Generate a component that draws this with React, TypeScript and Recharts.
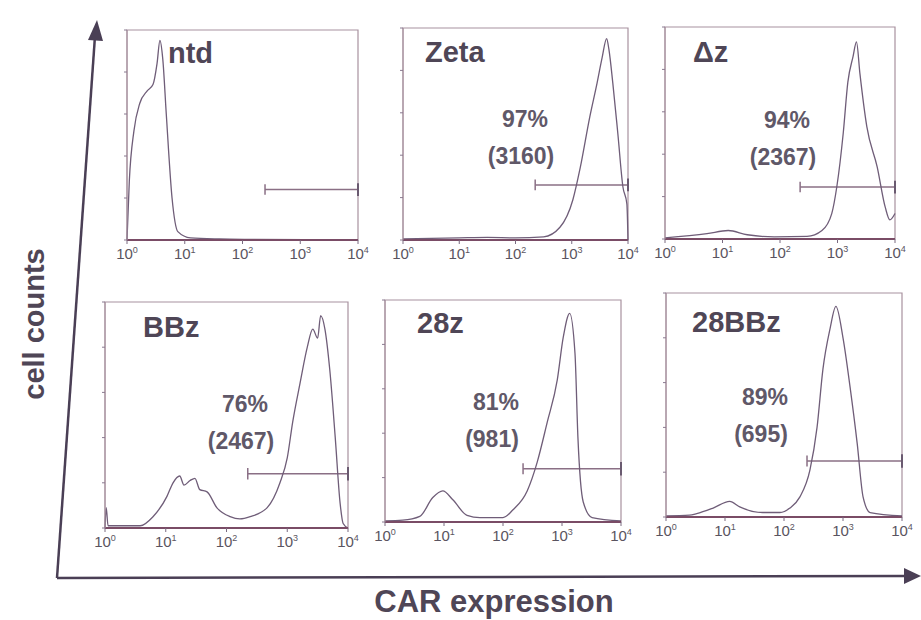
import React from "react";
import { LineChart, Line, XAxis, YAxis, ReferenceLine, ReferenceArea } from "recharts";

// x = log10(CAR expression), y = relative cell count
const ntdCurve = [
  { x: 0, y: 0 }, { x: 0.04, y: 28 }, { x: 0.12, y: 52 }, { x: 0.22, y: 65 },
  { x: 0.35, y: 71 }, { x: 0.45, y: 74 }, { x: 0.52, y: 84 }, { x: 0.57, y: 95 },
  { x: 0.62, y: 86 }, { x: 0.68, y: 60 }, { x: 0.78, y: 20 }, { x: 0.88, y: 4 },
  { x: 1.1, y: 1 }, { x: 1.6, y: 0.5 }, { x: 2.2, y: 0.3 }, { x: 4, y: 0 },
];
const zetaCurve = [
  { x: 0, y: 0.5 }, { x: 1.0, y: 1 }, { x: 1.5, y: 1.2 }, { x: 2.0, y: 1 },
  { x: 2.5, y: 1.5 }, { x: 2.79, y: 6 }, { x: 3.02, y: 19 }, { x: 3.15, y: 34 },
  { x: 3.32, y: 58 }, { x: 3.45, y: 74 }, { x: 3.54, y: 86 }, { x: 3.62, y: 95 },
  { x: 3.66, y: 90 }, { x: 3.73, y: 74 }, { x: 3.82, y: 50 }, { x: 3.91, y: 25 },
  { x: 3.98, y: 17 }, { x: 4, y: 0 },
];
const deltaCurve = [
  { x: 0, y: 0.5 }, { x: 0.73, y: 2.5 }, { x: 1.1, y: 4 }, { x: 1.43, y: 2 },
  { x: 1.9, y: 1 }, { x: 2.47, y: 1.2 }, { x: 2.73, y: 4 }, { x: 2.9, y: 12 },
  { x: 2.99, y: 25 }, { x: 3.1, y: 50 }, { x: 3.18, y: 74 }, { x: 3.27, y: 86 },
  { x: 3.33, y: 93 }, { x: 3.39, y: 78 }, { x: 3.51, y: 53 }, { x: 3.69, y: 34 },
  { x: 3.83, y: 15 }, { x: 3.91, y: 9 }, { x: 4, y: 12 },
];
const bbzCurve = [
  { x: 0, y: 0 }, { x: 0.02, y: 9 }, { x: 0.05, y: 1 }, { x: 0.58, y: 1 },
  { x: 0.79, y: 5 }, { x: 1.02, y: 14 }, { x: 1.12, y: 20 }, { x: 1.23, y: 23 },
  { x: 1.3, y: 19 }, { x: 1.4, y: 21 }, { x: 1.48, y: 22 }, { x: 1.56, y: 17 },
  { x: 1.68, y: 16 }, { x: 1.84, y: 9 }, { x: 2.06, y: 5 }, { x: 2.22, y: 4 },
  { x: 2.39, y: 5 }, { x: 2.67, y: 9 }, { x: 2.88, y: 20 }, { x: 3.0, y: 31 },
  { x: 3.09, y: 47 }, { x: 3.21, y: 64 }, { x: 3.33, y: 80 }, { x: 3.42, y: 88 },
  { x: 3.5, y: 84 }, { x: 3.55, y: 94 }, { x: 3.62, y: 88 }, { x: 3.7, y: 70 },
  { x: 3.79, y: 40 }, { x: 3.87, y: 11 }, { x: 3.92, y: 2 }, { x: 4, y: 0 },
];
const cd28Curve = [
  { x: 0, y: 0.5 }, { x: 0.3, y: 0.8 }, { x: 0.59, y: 2.5 }, { x: 0.81, y: 11 },
  { x: 0.98, y: 14 }, { x: 1.15, y: 10 }, { x: 1.39, y: 3 }, { x: 1.61, y: 2 },
  { x: 2.0, y: 2 }, { x: 2.17, y: 5.5 }, { x: 2.41, y: 14 }, { x: 2.58, y: 27 },
  { x: 2.75, y: 45 }, { x: 2.92, y: 64 }, { x: 3.02, y: 83 }, { x: 3.13, y: 94 },
  { x: 3.22, y: 76 }, { x: 3.27, y: 38 }, { x: 3.36, y: 9 }, { x: 3.51, y: 2 },
  { x: 4, y: 0.5 },
];
const cd28bbCurve = [
  { x: 0, y: 0.5 }, { x: 0.4, y: 0.8 }, { x: 0.52, y: 1.5 }, { x: 0.8, y: 4 },
  { x: 1.08, y: 7 }, { x: 1.25, y: 4.5 }, { x: 1.64, y: 2 }, { x: 1.93, y: 2 },
  { x: 2.1, y: 4 }, { x: 2.27, y: 9 }, { x: 2.44, y: 21 }, { x: 2.56, y: 40 },
  { x: 2.66, y: 66 }, { x: 2.78, y: 84 }, { x: 2.88, y: 94 }, { x: 3.0, y: 80 },
  { x: 3.12, y: 58 }, { x: 3.24, y: 33 }, { x: 3.34, y: 9 }, { x: 3.46, y: 2 },
  { x: 4, y: 0.5 },
];

const panelNames = ["ntd", "Zeta", "\u0394z", "BBz", "28z", "28BBz"];
const curves = [ntdCurve, zetaCurve, deltaCurve, bbzCurve, cd28Curve, cd28bbCurve];
const percents = ["", "97%", "94%", "76%", "81%", "89%"];
const mfis = ["", "(3160)", "(2367)", "(2467)", "(981)", "(695)"];
const gateStarts = [2.39, 2.35, 2.35, 2.35, 2.34, 2.39];
const gateLevels = [24, 26, 24.5, 24, 24, 25];
const decadeTicks = [0, 1, 2, 3, 4];

// box of each panel on the page: left, top, right, bottom
const boxes = [
  [127, 30, 358, 240],
  [403, 28, 628, 240],
  [665, 27, 895, 239],
  [105, 302, 348, 528],
  [385, 300, 621, 522],
  [666, 293, 902, 517],
];
// where the name and the % text sit, relative to the box
const nameOffsets = [[41, 33], [22, 34], [28, 35], [38, 35], [32, 33], [26, 39]];
const pctOffsets = [[0, 0], [122, 99], [122, 101], [140, 110], [111, 110], [99, 112]];

const lineColor = "#6f5d78";
const boxColor = "#a8929f";
const textColor = "#4f4656";

const DecadeTick = (props: any) => {
  const { x, y, payload } = props;
  return (
    <text x={x} y={y + 13} textAnchor="middle" fontSize={15} fill="#5a5460" fontFamily="Liberation Sans, Arial, sans-serif">
      <tspan>10</tspan>
      <tspan dy={-6} fontSize={9}>{payload.value}</tspan>
    </text>
  );
};

const NoTick = () => <g />;

function Histogram({ index }: { index: number }) {
  const [l, t, r, b] = boxes[index];
  const w = r - l;
  const h = b - t;
  const gs = gateStarts[index];
  const gl = gateLevels[index];
  return (
    <div style={{ position: "absolute", left: l - 20, top: t - 10 }}>
      <LineChart
        width={w + 40}
        height={h + 40}
        data={curves[index]}
        margin={{ top: 10, right: 20, bottom: 0, left: 16 }}
      >
        <XAxis
          dataKey="x"
          type="number"
          domain={[0, 4]}
          ticks={decadeTicks}
          tick={<DecadeTick />}
          tickSize={4}
          height={30}
          axisLine={{ stroke: "#7a4c66", strokeWidth: 2 }}
          tickLine={{ stroke: "#7a6a80" }}
          interval={0}
        />
        <YAxis
          type="number"
          domain={[0, 100]}
          ticks={[0, 20, 40, 60, 80, 100]}
          width={4}
          tick={<NoTick />}
          tickSize={3}
          axisLine={{ stroke: boxColor }}
          tickLine={{ stroke: "#8a7a90" }}
        />
        <ReferenceArea x1={0} x2={4} y1={0} y2={100} fill="none" stroke={boxColor} strokeWidth={1.2} />
        <ReferenceLine segment={[{ x: gs, y: gl }, { x: 4, y: gl }]} stroke="#8a6f85" strokeWidth={1.5} />
        <ReferenceLine segment={[{ x: gs, y: gl - 2.5 }, { x: gs, y: gl + 2.5 }]} stroke="#8a6f85" strokeWidth={1.5} />
        <ReferenceLine segment={[{ x: 4, y: gl - 3 }, { x: 4, y: gl + 3 }]} stroke="#6a5a70" strokeWidth={2} />
        <Line
          dataKey="y"
          type="monotone"
          stroke={lineColor}
          strokeWidth={1.3}
          dot={false}
          isAnimationActive={false}
        />
      </LineChart>
    </div>
  );
}

export default function App() {
  return (
    <div
      style={{
        position: "absolute",
        left: 0,
        top: 0,
        width: 921,
        height: 620,
        background: "#ffffff",
        fontFamily: "Liberation Sans, Arial, sans-serif",
      }}
    >
      {boxes.map((_, i) => (
        <Histogram key={i} index={i} />
      ))}
      <svg width={921} height={620} style={{ position: "absolute", left: 0, top: 0, pointerEvents: "none" }}>
        {/* large axes */}
        <line x1={57} y1={578} x2={95} y2={36} stroke="#4a3f55" strokeWidth={2.5} />
        <polygon points="97,20 88,40 103,41" fill="#4a3f55" />
        <line x1={57} y1={578} x2={906} y2={576} stroke="#4a3f55" strokeWidth={2.5} />
        <polygon points="921,576 904,568 904,584" fill="#4a3f55" />
        <text
          x={0}
          y={0}
          transform="translate(44,324) rotate(-90)"
          textAnchor="middle"
          fontSize={29}
          fontWeight="bold"
          fill={textColor}
        >
          cell counts
        </text>
        <text x={494} y={612} textAnchor="middle" fontSize={31} fontWeight="bold" fill={textColor}>
          CAR expression
        </text>
        {boxes.map(([l, t], i) => (
          <g key={i}>
            <text x={l + nameOffsets[i][0]} y={t + nameOffsets[i][1]} fontSize={29} fontWeight="bold" fill={textColor}>
              {panelNames[i]}
            </text>
            {percents[i] && (
              <>
                <text x={l + pctOffsets[i][0]} y={t + pctOffsets[i][1]} textAnchor="middle" fontSize={23} fontWeight="bold" fill="#605868">
                  {percents[i]}
                </text>
                <text x={l + pctOffsets[i][0] - 4} y={t + pctOffsets[i][1] + 37} textAnchor="middle" fontSize={23} fontWeight="bold" fill="#605868">
                  {mfis[i]}
                </text>
              </>
            )}
          </g>
        ))}
      </svg>
    </div>
  );
}
